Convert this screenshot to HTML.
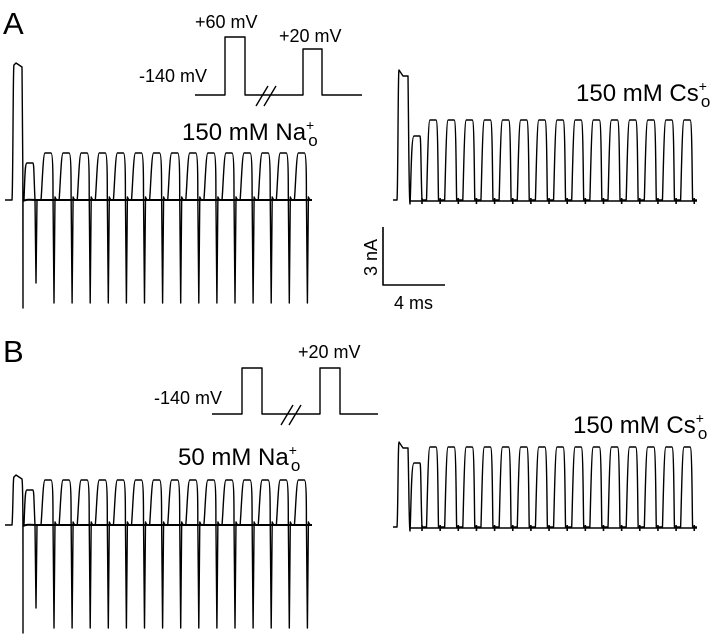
<!DOCTYPE html>
<html><head><meta charset="utf-8"><style>
html,body{margin:0;padding:0;background:#fff;}
svg{display:block}
text{font-family:"Liberation Sans",Arial,sans-serif;fill:#000}
</style></head><body>
<svg id="s" width="720" height="637" viewBox="0 0 720 637" xmlns="http://www.w3.org/2000/svg">
<g fill="none" stroke="#000" stroke-width="1.4" stroke-linejoin="round">
<path d="M195 95H225V37H245V95H262M285 95H303V49H322V95H362"/>
<path d="M256 106L268 86M264 106L276 86" />
<path d="M262 95H285"/>
<path d="M212 414H242V368H262V414H277M300 414H320V368H340V414H378"/>
<path d="M277 414H300"/>
<path d="M281 425L293 405M289 425L301 405"/>
<path d="M383 227V285H445" stroke-width="1.6"/>
<g id="traces"></g>
</g>
<text x="3" y="34" font-size="31">A</text>
<text x="3" y="362" font-size="31">B</text>
<text x="195" y="28" font-size="18">+60 mV</text>
<text x="279" y="42" font-size="18">+20 mV</text>
<text x="139" y="82" font-size="18">-140 mV</text>
<text x="298" y="358" font-size="18">+20 mV</text>
<text x="154" y="404" font-size="18">-140 mV</text>
<text x="182" y="140" font-size="24">150 mM Na<tspan dy="-10" font-size="14">+</tspan><tspan dy="16" dx="-6" font-size="17">o</tspan></text>
<text x="178" y="465" font-size="24">50 mM Na<tspan dy="-10" font-size="14">+</tspan><tspan dy="16" dx="-6" font-size="17">o</tspan></text>
<text x="576" y="101" font-size="24">150 mM Cs<tspan dy="-10" font-size="14">+</tspan><tspan dy="16" dx="-6" font-size="17">o</tspan></text>
<text x="573" y="433" font-size="24">150 mM Cs<tspan dy="-10" font-size="14">+</tspan><tspan dy="16" dx="-6" font-size="17">o</tspan></text>
<text x="394" y="309" font-size="18">4 ms</text>
<text transform="translate(377,276) rotate(-90)" font-size="18">3 nA</text>
</svg>
<script>
var g=document.getElementById('traces'),ns='http://www.w3.org/2000/svg';
function P(d,w){var p=document.createElementNS(ns,'path');p.setAttribute('d',d);if(w)p.setAttribute('stroke-width',w);g.appendChild(p);}
function left(b,big,sm,top,spk,end){
 var d='M5 '+b+'H12C13 '+(b-10)+' 13 '+big+' 14 '+(big+2)+'L16 '+big+'L22 '+(big+4)+'C23 '+(b-40)+' 23 '+b+' 23 '+(spk+5)+'V'+b+'H24C25 '+(sm+10)+' 25 '+sm+' 27 '+sm+'H33C34 '+sm+' 34 '+(b-20)+' 35 '+b+'L36 '+(spk-20)+'L37 '+b;
 for(var k=0;k<15;k++){var x=43+18.1*k;
  d+='L'+(x-2)+' '+b+'C'+(x-1)+' '+(b-10)+' '+x+' '+top+' '+(x+2)+' '+top+'H'+(x+8)+'C'+(x+10)+' '+top+' '+(x+10)+' '+(b-20)+' '+(x+10)+' '+(b-5)+'L'+(x+11)+' '+spk+'L'+(x+12)+' '+(b-3)+'C'+(x+13)+' '+b+' '+(x+14)+' '+b+' '+(x+15)+' '+b;}
 P(d+'H'+end);
 P('M23 '+(b+1)+'C26 '+(b-1)+' 30 '+b+' 40 '+b+'H'+end,2);
}
function right(b,big,sm,top){
 var d='M393 '+b+'H397C398 '+(b-10)+' 398 '+big+' 399 '+big+'L403 '+(big+6)+'H408C409 '+(b-40)+' 409 '+b+' 410 '+(b+4)+'C411 '+(b-10)+' 411 '+sm+' 414 '+sm+'H420C421 '+sm+' 421 '+(b-20)+' 422 '+b;
 for(var k=0;k<15;k++){var x=428+18.15*k;
  d+='L'+(x-1.5)+' '+b+'C'+(x-1)+' '+(b-10)+' '+x+' '+top+' '+(x+2)+' '+top+'H'+(x+8)+'C'+(x+10)+' '+top+' '+(x+10)+' '+(b-20)+' '+(x+10.5)+' '+b;}
 P(d+'H697');
 var t='M410 '+(b+1)+'H697';
 for(var k=0;k<16;k++){var x=422+18.15*k;t+='M'+x+' '+(b-2)+'V'+(b+4);}
 P(t,1.6);
}
left(200,63,163,153,303,312);
right(200,70,136,120);
left(525,475,490,480,628,312);
right(527,442,463,447);
</script>
</body></html>
